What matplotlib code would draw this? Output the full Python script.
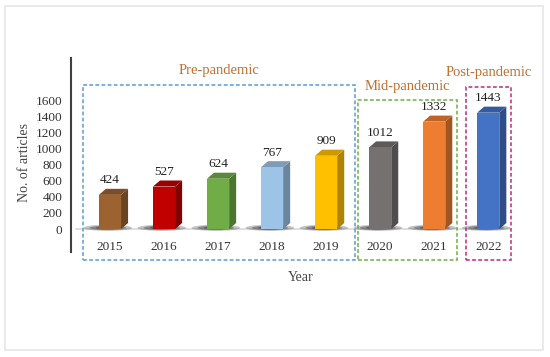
import numpy as np
import matplotlib
matplotlib.use("Agg")
import matplotlib.pyplot as plt
from matplotlib.patches import Polygon, Rectangle, Ellipse
from matplotlib.colors import to_rgb

# Данные
years = ["2015", "2016", "2017", "2018", "2019", "2020", "2021", "2022"]
articles = [424, 527, 624, 767, 909, 1012, 1332, 1443]
bar_colors = ["#9C6230", "#C00000", "#70AD47", "#9DC3E6", "#FFC000",
              "#767171", "#ED7D31", "#4472C4"]
y_ticks = [0, 200, 400, 600, 800, 1000, 1200, 1400, 1600]

# Группы периодов: (название, первый индекс, последний индекс, цвет рамки)
periods = [("Pre-pandemic", 0, 4, "#5B9BD5"),
           ("Mid-pandemic", 5, 6, "#70AD47"),
           ("Post-pandemic", 7, 7, "#C0287F")]

plt.rcParams['font.family'] = ['Liberation Serif', 'DejaVu Serif']

fig = plt.figure(figsize=(5.5, 3.57), dpi=100)
# светлая рамка вокруг всего рисунка
fig.patches.append(Rectangle((0.009, 0.02), 0.979, 0.963, transform=fig.transFigure,
                             fill=False, edgecolor="#E6E6E6", linewidth=1.2))

ax = fig.add_axes([0.129, 0.294, 0.853, 0.5435])
ax.set_xlim(-0.722, 7.96)
ax.set_ylim(-285, 2121)

w = 0.41     # ширина передней грани
dx = 0.13    # глубина по x
dy = 75      # глубина по y


def shade(c, k):
    r, g, b = to_rgb(c)
    return (r * k, g * k, b * k)


# базовая линия
ax.plot([-0.62, 7.38], [0, 0], color="#D9D9D9", linewidth=1.2, zorder=1)

for i, (h, c) in enumerate(zip(articles, bar_colors)):
    x0, x1 = i - w / 2, i + w / 2
    # тень под столбиком
    for k, a in [(1.0, 0.3), (0.75, 0.4), (0.5, 0.5)]:
        ax.add_patch(Ellipse((i - 0.04, 15), 0.9 * k, 75 * k, color="#3A3A3A",
                             alpha=a, linewidth=0, zorder=2))
    ax.add_patch(Polygon([(x1, 0), (x1 + dx, dy), (x1 + dx, h + dy), (x1, h)],
                         closed=True, facecolor=shade(c, 0.68), edgecolor="none", zorder=3))
    ax.add_patch(Polygon([(x0, h), (x1, h), (x1 + dx, h + dy), (x0 + dx, h + dy)],
                         closed=True, facecolor=shade(c, 0.8), edgecolor="none", zorder=3))
    ax.bar(i, h, width=w, color=c, zorder=4)
    ax.text(i, h + dy + 30, str(h), ha="center", va="bottom", fontsize=9.5, color="#222222")

# рамки периодов и подписи
box_tops = {"Pre-pandemic": 1786, "Mid-pandemic": 1600, "Post-pandemic": 1761}
label_y = {"Pre-pandemic": 1960, "Mid-pandemic": 1770, "Post-pandemic": 1940}
for name, a, b, col in periods:
    left = a - 0.5 if a == 0 else a - 0.41
    right = b + 0.54 if b == 4 else b + 0.43
    bottom = -384
    ax.add_patch(Rectangle((left, bottom), right - left, box_tops[name] - bottom,
                           fill=False, edgecolor=col, linestyle=(0, (2.5, 1.5)),
                           linewidth=1.1, clip_on=False, zorder=5))
    ax.text((left + right) / 2, label_y[name], name, ha="center", va="center",
            fontsize=10.5, color="#C0702F")

ax.set_yticks(y_ticks)
ax.set_yticklabels([str(v) for v in y_ticks], fontsize=9.5, color="#333333")
ax.set_xticks(range(len(years)))
ax.set_xticklabels(years, fontsize=9.5, color="#333333")
ax.tick_params(axis="y", length=0, pad=6)
ax.tick_params(axis="x", length=0, pad=-8)

for s in ["top", "right", "bottom"]:
    ax.spines[s].set_visible(False)
ax.spines["left"].set_color("#404040")
ax.spines["left"].set_linewidth(1.5)

ax.set_ylabel("No. of articles", fontsize=10, color="#444444")
ax.yaxis.set_label_coords(-0.085, 0.46)
ax.set_xlabel("Year", fontsize=10, color="#444444")
ax.xaxis.set_label_coords(0.49, -0.10)

fig.savefig("out.png", dpi=100)
